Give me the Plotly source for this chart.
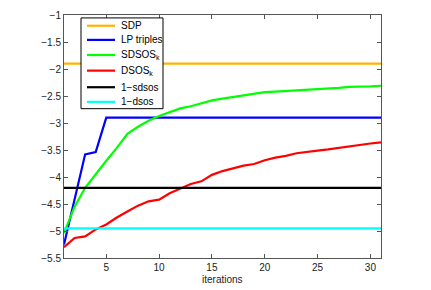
import plotly.graph_objects as go

iterations = list(range(1, 32))

sdp_value = -1.9
sdsos_1_value = -4.2
dsos_1_value = -4.95

lp_triples = [-5.25, -4.42, -3.58, -3.54] + [-2.9] * 27

sdsos_k = [-5.04, -4.55, -4.2, -3.94, -3.7, -3.46, -3.2, -3.07, -2.96, -2.87,
           -2.8, -2.73, -2.69, -2.63, -2.58, -2.55, -2.52, -2.49, -2.46, -2.43,
           -2.42, -2.41, -2.40, -2.38, -2.37, -2.36, -2.35, -2.33, -2.33, -2.32,
           -2.31]

dsos_k = [-5.3, -5.13, -5.1, -4.97, -4.88, -4.75, -4.64, -4.53, -4.45, -4.42,
          -4.3, -4.21, -4.13, -4.08, -3.96, -3.89, -3.84, -3.79, -3.76, -3.69,
          -3.64, -3.61, -3.56, -3.53, -3.51, -3.49, -3.46, -3.44, -3.41, -3.38,
          -3.36]

series_names = ["SDP", "LP triples", "SDSOS<sub>k</sub>", "DSOS<sub>k</sub>",
                "1\u2212sdsos", "1\u2212dsos"]
series_colors = ["#FFB300", "#0000FF", "#00FF00", "#FF0000", "#000000", "#00FFFF"]
series_values = [
    [sdp_value] * len(iterations),
    lp_triples,
    sdsos_k,
    dsos_k,
    [sdsos_1_value] * len(iterations),
    [dsos_1_value] * len(iterations),
]

y_ticks = [-1, -1.5, -2, -2.5, -3, -3.5, -4, -4.5, -5, -5.5]
y_labels = ["\u22121", "\u22121.5", "\u22122", "\u22122.5", "\u22123", "\u22123.5",
            "\u22124", "\u22124.5", "\u22125", "\u22125.5"]
x_ticks = [5, 10, 15, 20, 25, 30]

FONT = "Liberation Sans, Arial"
fig = go.Figure()
lw = 2.2
for name, color, vals in zip(series_names, series_colors, series_values):
    fig.add_trace(go.Scatter(x=iterations, y=vals, mode="lines", name=name,
                             line=dict(color=color, width=lw), showlegend=False))

axis_common = dict(
    showgrid=False, zeroline=False, showline=True, linecolor="#555555", linewidth=1,
    mirror="ticks", ticks="inside", ticklen=4, tickcolor="#555555",
    tickfont=dict(family=FONT, size=10, color="#222222"),
)

# Legend box (drawn manually to match the compact MATLAB legend)
plot_l, plot_r, plot_t, plot_b = 64, 381, 9, 258
pw, ph = plot_r - plot_l, plot_b - plot_t
def px(x):
    return (x - plot_l) / pw
def py(y):
    return 1 - (y - plot_t) / ph

shapes = [dict(type="rect", xref="paper", yref="paper", layer="above",
               x0=px(81), x1=px(163), y0=py(105), y1=py(12),
               fillcolor="white", line=dict(color="#000000", width=1))]
annotations = []
row_y = [20, 34.5, 50, 66, 83, 98]
for name, color, ry in zip(series_names, series_colors, row_y):
    shapes.append(dict(type="line", xref="paper", yref="paper", layer="above",
                       x0=px(87), x1=px(115), y0=py(ry), y1=py(ry),
                       line=dict(color=color, width=lw)))
    annotations.append(dict(xref="paper", yref="paper", x=px(119), y=py(ry),
                            xanchor="left", yanchor="middle", showarrow=False,
                            text=name, font=dict(family=FONT, size=10, color="#000000")))

annotations.append(dict(xref="paper", yref="paper", x=0.5, y=0, yshift=-14,
                        xanchor="center", yanchor="top", showarrow=False,
                        text="iterations", font=dict(family=FONT, size=10, color="#222222")))

fig.update_layout(
    width=431, height=290,
    margin=dict(l=plot_l, r=431 - plot_r, t=plot_t, b=290 - plot_b),
    paper_bgcolor="white", plot_bgcolor="white",
    xaxis=dict(range=[1, 31], tickvals=x_ticks, **axis_common),
    yaxis=dict(range=[-5.5, -1], tickvals=y_ticks, ticktext=y_labels, **axis_common),
    shapes=shapes,
    annotations=annotations,
    showlegend=False,
)

fig.write_html("out.html", config={"displayModeBar": False},
               post_script="document.body.style.margin='0';document.body.style.padding='0';document.body.style.overflow='hidden';")
